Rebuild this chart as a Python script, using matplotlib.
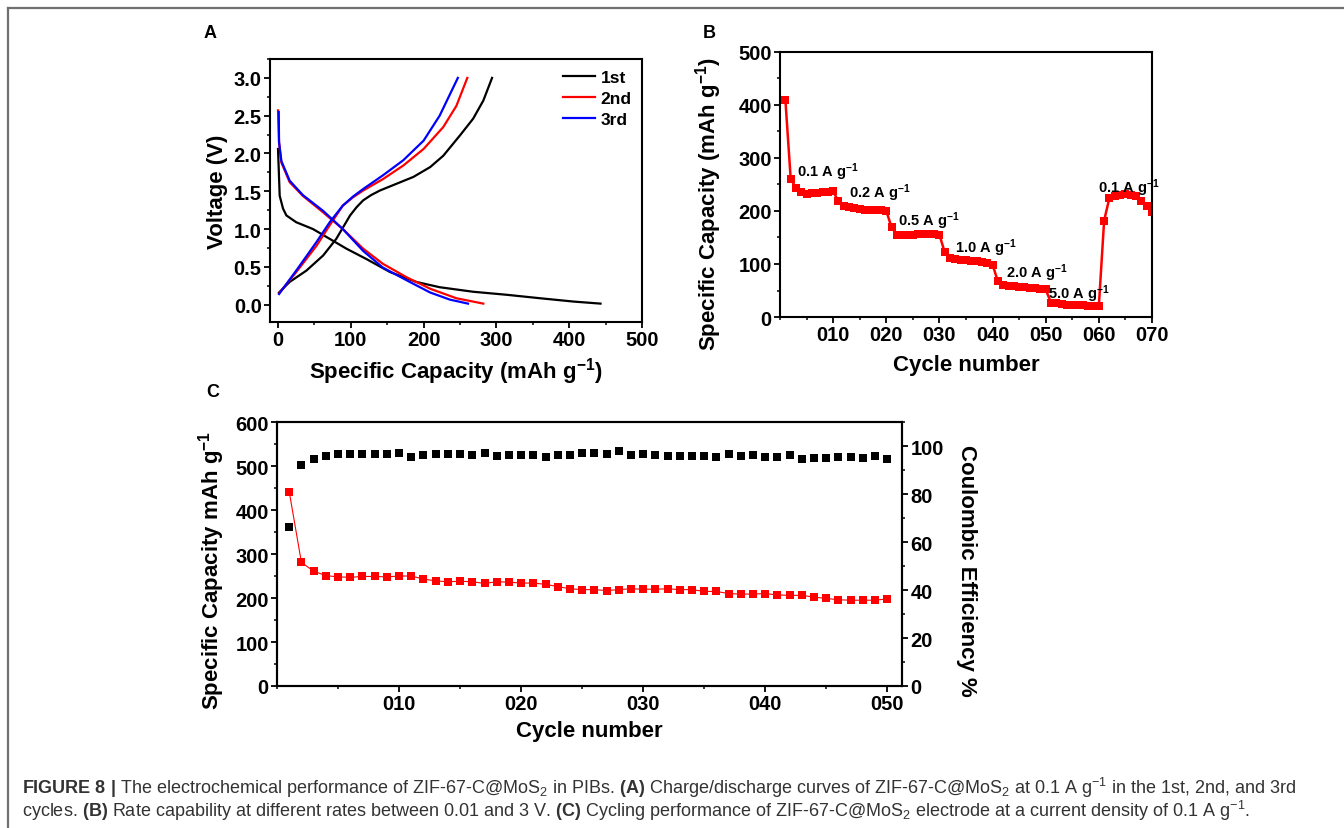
import matplotlib.pyplot as plt
from matplotlib.lines import Line2D
from matplotlib.ticker import MultipleLocator
from matplotlib import font_manager

# ---- panel A: charge/discharge curves (capacity mAh/g, voltage V)
cyc1_dis_cap = [0, 2.3, 6.9, 11.5, 25, 48, 71, 94, 122, 154, 190, 222, 268, 314, 360, 406, 443]
cyc1_dis_v = [2.06, 1.44, 1.27, 1.18, 1.09, 1.0, 0.87, 0.74, 0.60, 0.43, 0.30, 0.23, 0.17, 0.13, 0.084, 0.04, 0.013]
cyc1_chg_cap = [1.4, 16, 39, 62, 80, 99, 108, 117, 128, 140, 163, 186, 209, 227, 250, 268, 282, 294]
cyc1_chg_v = [0.16, 0.30, 0.45, 0.65, 0.87, 1.18, 1.29, 1.38, 1.45, 1.51, 1.60, 1.69, 1.82, 1.97, 2.24, 2.46, 2.70, 3.0]
cyc2_dis_cap = [0, 1.4, 4.6, 16, 34, 62, 89, 117, 144, 177, 209, 245, 282]
cyc2_dis_v = [2.57, 2.15, 1.88, 1.62, 1.44, 1.22, 1.0, 0.74, 0.54, 0.36, 0.21, 0.084, 0.013]
cyc2_chg_cap = [1.4, 25, 53, 71, 89, 103, 117, 144, 172, 200, 227, 245, 260]
cyc2_chg_v = [0.15, 0.43, 0.78, 1.05, 1.31, 1.42, 1.51, 1.66, 1.84, 2.06, 2.35, 2.63, 3.0]
cyc3_dis_cap = [1, 1.4, 4.6, 16, 34, 62, 89, 117, 144, 177, 209, 236, 261]
cyc3_dis_v = [2.55, 2.15, 1.90, 1.64, 1.45, 1.24, 1.0, 0.71, 0.49, 0.32, 0.16, 0.066, 0.013]
cyc3_chg_cap = [1.4, 25, 53, 71, 89, 103, 117, 144, 172, 200, 222, 247]
cyc3_chg_v = [0.14, 0.45, 0.83, 1.09, 1.31, 1.43, 1.53, 1.71, 1.91, 2.17, 2.50, 3.0]

# ---- panel B: rate capability
rate_cycles = list(range(1, 71))
rate_capacity = [410, 261, 243, 235, 232, 233, 234, 235, 236, 237,
                 218, 209, 207, 205, 203, 202, 201, 201, 201, 200,
                 169, 155, 154, 154, 155, 156, 157, 157, 156, 155,
                 122, 111, 110, 108, 107, 106, 105, 103, 101, 99,
                 67, 60, 59, 58, 57, 56, 55, 54, 53, 52,
                 27, 26, 24, 23, 23, 23, 22, 21, 21, 20,
                 182, 225, 229, 231, 232, 231, 228, 218, 210, 198]
rate_labels = ["0.1", "0.2", "0.5", "1.0", "2.0", "5.0", "0.1"]
rate_label_x = [3.1, 13, 22.2, 33, 42.6, 50.4, 59.8]
rate_label_y = [276, 236, 182, 132, 85, 45, 245]
b_tick_vals = [10, 20, 30, 40, 50, 60, 70]
b_tick_labels = ["010", "020", "030", "040", "050", "060", "070"]

# ---- panel C: cycling performance
cyc_n = list(range(1, 51))
cyc_capacity = [442, 281, 261, 251, 248, 247, 249, 249, 248, 250,
                250, 243, 239, 237, 238, 237, 233, 237, 236, 234,
                234, 231, 226, 221, 219, 219, 217, 219, 221, 220,
                220, 221, 219, 219, 215, 215, 210, 209, 209, 210,
                207, 206, 206, 202, 199, 196, 195, 195, 195, 198]
cyc_ce = [66.4, 92.3, 94.6, 95.8, 96.7, 96.8, 96.7, 96.7, 96.7, 97.1,
          95.4, 96.2, 96.5, 96.5, 96.5, 96.4, 96.9, 96.0, 96.1, 96.2,
          96.2, 95.5, 96.2, 96.2, 97.3, 96.9, 96.7, 97.8, 96.4, 96.8,
          96.4, 95.9, 95.9, 95.8, 95.8, 95.3, 96.5, 95.8, 96.4, 95.5,
          95.4, 96.1, 94.6, 95.1, 95.1, 95.4, 95.4, 95.0, 95.8, 94.6]
c_tick_vals = [10, 20, 30, 40, 50]
c_tick_labels = ["010", "020", "030", "040", "050"]

names = {f.name for f in font_manager.fontManager.ttflist}
cap_font = "Liberation Sans Narrow" if "Liberation Sans Narrow" in names else "Liberation Sans"

plt.rcParams.update({
    "font.family": ["Liberation Sans", "DejaVu Sans"],
    "font.weight": "bold",
    "axes.labelweight": "bold",
    "axes.linewidth": 1.5,
    "xtick.direction": "out",
    "ytick.direction": "out",
    "xtick.major.width": 1.3,
    "ytick.major.width": 1.3,
    "xtick.minor.width": 1.1,
    "ytick.minor.width": 1.1,
    "xtick.major.size": 4,
    "ytick.major.size": 4,
    "xtick.minor.size": 2.5,
    "ytick.minor.size": 2.5,
    "mathtext.fontset": "custom",
    "mathtext.rm": cap_font + ":weight=normal",
    "mathtext.it": cap_font + ":italic:weight=normal",
    "mathtext.bf": cap_font + ":bold",
    "mathtext.sf": "Liberation Sans:bold",
})

fig = plt.figure(figsize=(13.44, 8.29), dpi=100)

TICK_FS = 14.5
LABEL_FS = 16

# ---------------- A
axa = fig.add_axes([0.2009, 0.6104, 0.2768, 0.3172])
axa.plot(cyc1_dis_cap, cyc1_dis_v, color="black", lw=1.6, label="1st")
axa.plot(cyc1_chg_cap, cyc1_chg_v, color="black", lw=1.6)
axa.plot(cyc2_dis_cap, cyc2_dis_v, color="#ff0000", lw=1.6, label="2nd")
axa.plot(cyc2_chg_cap, cyc2_chg_v, color="#ff0000", lw=1.6)
axa.plot(cyc3_dis_cap, cyc3_dis_v, color="#0000ff", lw=1.6, label="3rd")
axa.plot(cyc3_chg_cap, cyc3_chg_v, color="#0000ff", lw=1.6)
axa.set_xlim(-11, 500)
axa.set_ylim(-0.23, 3.25)
axa.xaxis.set_major_locator(MultipleLocator(100))
axa.xaxis.set_minor_locator(MultipleLocator(50))
axa.yaxis.set_major_locator(MultipleLocator(0.5))
axa.yaxis.set_minor_locator(MultipleLocator(0.25))
axa.tick_params(labelsize=TICK_FS, pad=2)
axa.set_xlabel(r"Specific Capacity (mAh g$^{\mathsf{-1}}$)", fontsize=LABEL_FS, labelpad=4)
axa.set_ylabel("Voltage (V)", fontsize=LABEL_FS, labelpad=4)
axa.legend(loc="upper right", frameon=False, fontsize=12.5, handlelength=1.8,
           handletextpad=0.35, labelspacing=0.35, borderaxespad=0.3,
           borderpad=0.3)
fig.text(0.1563, 0.960, "A", fontsize=13, weight="bold", va="center", ha="center")

# ---------------- B
axb = fig.add_axes([0.5804, 0.6164, 0.2767, 0.3197])
axb.plot(rate_cycles, rate_capacity, color="#ff0000", lw=1.8, marker="s", ms=5.5,
         markeredgewidth=0)
axb.set_xlim(0, 70)
axb.set_ylim(0, 500)
axb.set_xticks(b_tick_vals, b_tick_labels)
axb.xaxis.set_minor_locator(MultipleLocator(5))
axb.yaxis.set_major_locator(MultipleLocator(100))
axb.yaxis.set_minor_locator(MultipleLocator(50))
axb.tick_params(labelsize=TICK_FS, pad=2)
for lab, x, y in zip(rate_labels, rate_label_x, rate_label_y):
    axb.text(x, y, lab + r" A g$^{\mathsf{-1}}$", fontsize=10.5, weight="bold", va="center", ha="left")
axb.set_xlabel("Cycle number", fontsize=LABEL_FS, labelpad=7)
axb.set_ylabel(r"Specific Capacity (mAh g$^{\mathsf{-1}}$)", fontsize=LABEL_FS)
axb.yaxis.set_label_coords(-0.152, 0.43)
fig.text(0.5275, 0.960, "B", fontsize=13, weight="bold", va="center", ha="center")

# ---------------- C
axc = fig.add_axes([0.2061, 0.1713, 0.4650, 0.3184])
axc.plot(cyc_n, cyc_capacity, color="#ff0000", lw=0.8, marker="s", ms=5.5,
         markeredgewidth=0, zorder=3)
axc.set_xlim(0, 51.2)
axc.set_ylim(0, 600)
axc.set_xticks(c_tick_vals, c_tick_labels)
axc.xaxis.set_minor_locator(MultipleLocator(5))
axc.yaxis.set_major_locator(MultipleLocator(100))
axc.yaxis.set_minor_locator(MultipleLocator(50))
axc.tick_params(labelsize=TICK_FS, pad=2)
axc.set_xlabel("Cycle number", fontsize=LABEL_FS, labelpad=5)
axc.set_ylabel(r"Specific Capacity mAh g$^{\mathsf{-1}}$", fontsize=LABEL_FS)
axc.yaxis.set_label_coords(-0.08, 0.44)

ax2 = axc.twinx()
ax2.plot(cyc_n, cyc_ce, linestyle="none", color="black", marker="s", ms=5.5, markeredgewidth=0)
ax2.set_ylim(0, 110)
ax2.yaxis.set_major_locator(MultipleLocator(20))
ax2.yaxis.set_minor_locator(MultipleLocator(10))
ax2.tick_params(labelsize=TICK_FS, pad=2)
ax2.set_ylabel("Coulombic Efficiency %", fontsize=LABEL_FS, rotation=270)
ax2.yaxis.set_label_coords(1.12, 0.44)
fig.text(0.1585, 0.526, "C", fontsize=13, weight="bold", va="center", ha="center")

# ---------------- frame + caption
fig.add_artist(Line2D([0.006, 1.0], [0.989, 0.989], color="#707070", lw=1.6))
fig.add_artist(Line2D([0.006, 0.006], [0.0, 0.989], color="#707070", lw=1.6))

cap1 = (r"$\mathbf{FIGURE\ 8\ |}$ The electrochemical performance of ZIF-67-C@MoS$_{2}$ in PIBs. "
        r"$\mathbf{(A)}$ Charge/discharge curves of ZIF-67-C@MoS$_{2}$ at 0.1 A g$^{-1}$ in the 1st, 2nd, and 3rd")
cap2 = (r"cycles. $\mathbf{(B)}$ Rate capability at different rates between 0.01 and 3 V. "
        r"$\mathbf{(C)}$ Cycling performance of ZIF-67-C@MoS$_{2}$ electrode at a current density of 0.1 A g$^{-1}$.")
fig.text(0.0164, 1 - 794 / 829, cap1, fontsize=13, family=cap_font, weight="normal",
         color="#333333", va="baseline")
fig.text(0.0164, 1 - 817 / 829, cap2, fontsize=13, family=cap_font, weight="normal",
         color="#333333", va="baseline")

fig.savefig("out.png", dpi=100)
